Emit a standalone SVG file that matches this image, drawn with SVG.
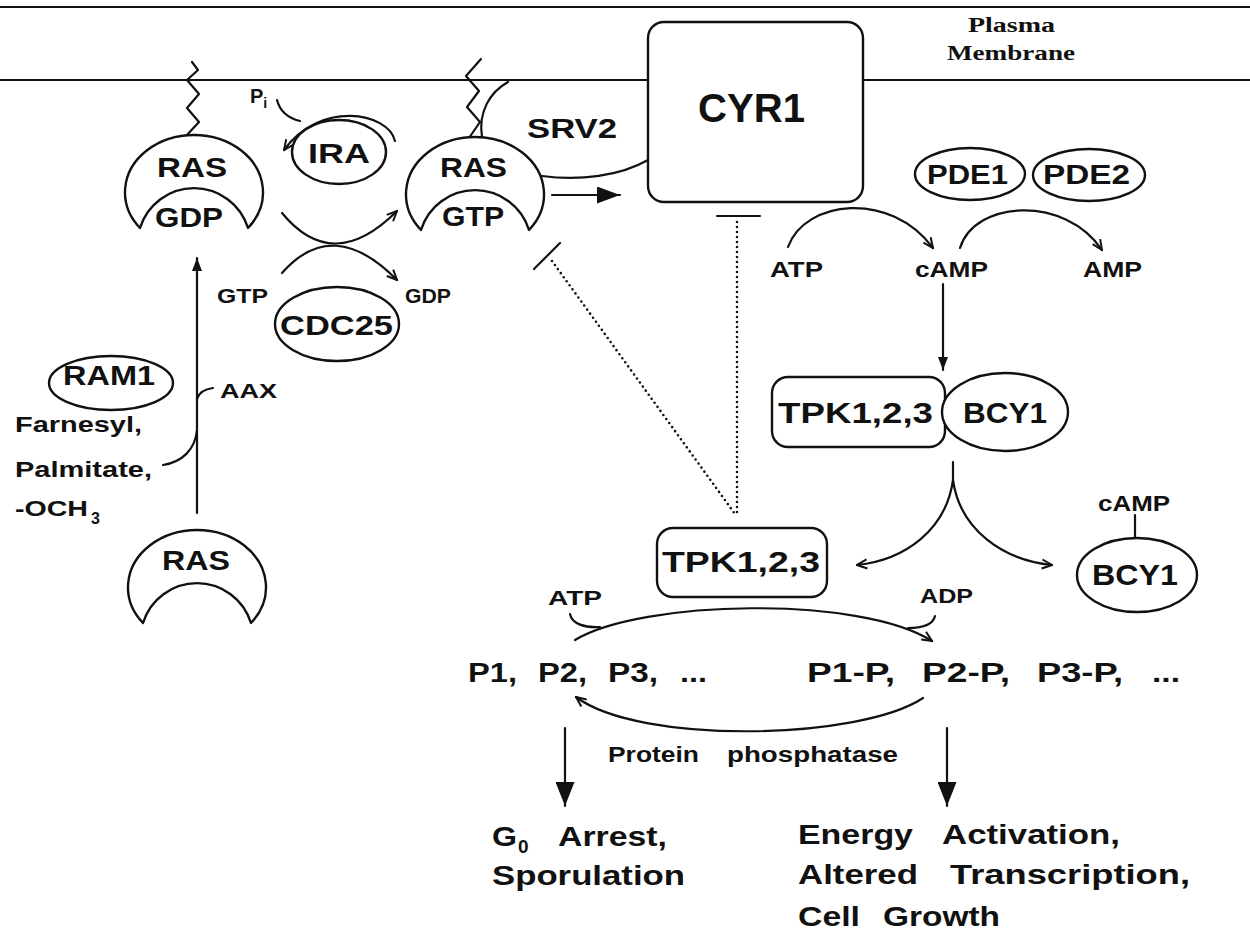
<svg xmlns="http://www.w3.org/2000/svg" width="1250" height="933" viewBox="0 0 1250 933">
<style>
  .ln{fill:none;stroke:#111;stroke-width:2.2;stroke-linecap:round;stroke-linejoin:round}
  .sh{fill:#fff;stroke:#111;stroke-width:2.4;stroke-linejoin:round}
  .t{font-family:"Liberation Sans",Arial,sans-serif;font-weight:bold;fill:#111}
  .s{font-family:"Liberation Serif","Times New Roman",serif;font-weight:bold;fill:#111}
  .dot{fill:none;stroke:#111;stroke-width:2.6;stroke-linecap:round;stroke-dasharray:0 5}
</style>
<defs>
  <path id="ras" d="M -54 93 A 69 57.3 0 1 1 54 93 A 56.5 56.5 0 0 0 -54 93 Z"/>
  <marker id="open" viewBox="0 0 12 12" refX="11" refY="6" markerWidth="12" markerHeight="12" markerUnits="userSpaceOnUse" orient="auto">
    <path d="M1,1.5 L11,6 L1,10.5" fill="none" stroke="#111" stroke-width="2"/>
  </marker>
  <marker id="big" viewBox="0 0 10 10" refX="10" refY="5" markerWidth="23" markerHeight="17" markerUnits="userSpaceOnUse" orient="auto" preserveAspectRatio="none">
    <path d="M0,0 L10,5 L0,10 Z" fill="#111"/>
  </marker>
  <marker id="down" viewBox="0 0 10 10" refX="10" refY="5" markerWidth="24" markerHeight="19" markerUnits="userSpaceOnUse" orient="auto" preserveAspectRatio="none">
    <path d="M0,0 L10,5 L0,10 Z" fill="#111"/>
  </marker>
  <marker id="small" viewBox="0 0 10 10" refX="10" refY="5" markerWidth="13" markerHeight="10" markerUnits="userSpaceOnUse" orient="auto" preserveAspectRatio="none">
    <path d="M0,0 L10,5 L0,10 Z" fill="#111"/>
  </marker>
</defs>
<rect width="1250" height="933" fill="#fff"/>

<g id="membrane">
  <line class="ln" x1="0" y1="7" x2="1250" y2="7"/>
  <line class="ln" x1="0" y1="80" x2="648" y2="80"/>
  <line class="ln" x1="863" y1="80" x2="1250" y2="80"/>
  <text class="s" x="968" y="32" font-size="20" textLength="87" lengthAdjust="spacingAndGlyphs">Plasma</text>
  <text class="s" x="947" y="60" font-size="20" textLength="128" lengthAdjust="spacingAndGlyphs">Membrane</text>
</g>

<g id="connectors">
  <path class="ln" d="M186,136 L199,122 L187,108 L199,94 L187,80 L198,70 L192,62"/>
  <path class="ln" d="M469,138 L480,122 L467,107 L479,91 L466,76 L481,59"/>
  <path class="ln" d="M508,82 C490,92 478,112 482,137"/>
  <path class="ln" d="M542,176 C580,181 620,176 648,160"/>
  <path class="ln" d="M395,141 C388,112 320,100 284,150" marker-end="url(#open)"/>
  <path class="ln" d="M277,100 C280,112 288,118 300,121"/>
  <path class="ln" d="M282,213 Q333,275 397,211" marker-end="url(#open)"/>
  <path class="ln" d="M282,273 Q333,215 397,280" marker-end="url(#open)"/>
  <line class="ln" x1="552" y1="195" x2="620" y2="195" marker-end="url(#big)"/>
  <line class="ln" x1="717" y1="216" x2="760" y2="216"/>
  <line class="dot" x1="737" y1="222" x2="737" y2="516"/>
  <line class="ln" x1="534" y1="269" x2="560" y2="243"/>
  <line class="dot" x1="552" y1="261" x2="735" y2="514"/>
  <path class="ln" d="M788,247 C805,200 890,190 933,248" marker-end="url(#open)"/>
  <path class="ln" d="M960,248 C975,200 1065,195 1102,250" marker-end="url(#open)"/>
  <line class="ln" x1="943" y1="284" x2="943" y2="370" marker-end="url(#small)"/>
  <path class="ln" d="M953,462 L953,480 C946,530 905,560 857,565" marker-end="url(#open)"/>
  <path class="ln" d="M953,480 C960,530 1003,560 1052,565" marker-end="url(#open)"/>
  <line class="ln" x1="1135" y1="515" x2="1135" y2="538"/>
  <line class="ln" x1="197" y1="513" x2="197" y2="258" marker-end="url(#small)"/>
  <path class="ln" d="M197,399 C199,392 205,389 213,388"/>
  <path class="ln" d="M197,430 C195,450 182,462 163,465"/>
  <path class="ln" d="M575,640 C640,600 860,595 932,641" marker-end="url(#open)"/>
  <path class="ln" d="M570,614 C572,624 585,628 600,627"/>
  <path class="ln" d="M935,616 C933,625 922,628 908,628"/>
  <path class="ln" d="M923,698 C860,740 640,745 576,697" marker-end="url(#open)"/>
  <line class="ln" x1="565" y1="728" x2="565" y2="806" marker-end="url(#down)"/>
  <line class="ln" x1="947" y1="728" x2="947" y2="806" marker-end="url(#down)"/>
</g>

<g id="ras-gdp">
  <use href="#ras" class="sh" transform="translate(194,135)"/>
  <text class="t" x="157" y="177" font-size="28" textLength="70" lengthAdjust="spacingAndGlyphs">RAS</text>
  <text class="t" x="155" y="227" font-size="28" textLength="68" lengthAdjust="spacingAndGlyphs">GDP</text>
</g>

<g id="ras-gtp">
  <use href="#ras" class="sh" transform="translate(475,137)"/>
  <text class="t" x="440" y="177" font-size="28" textLength="67" lengthAdjust="spacingAndGlyphs">RAS</text>
  <text class="t" x="442" y="226" font-size="28" textLength="62" lengthAdjust="spacingAndGlyphs">GTP</text>
</g>

<g id="ras-immature">
  <use href="#ras" class="sh" transform="translate(197,530)"/>
  <text class="t" x="162" y="570" font-size="28" textLength="68" lengthAdjust="spacingAndGlyphs">RAS</text>
</g>

<g id="cyr1">
  <rect class="sh" x="648" y="22" width="215" height="180" rx="16"/>
  <text class="t" x="698" y="122" font-size="40" textLength="107" lengthAdjust="spacingAndGlyphs">CYR1</text>
</g>

<g id="srv2">
  <text class="t" x="527" y="138" font-size="27" textLength="90" lengthAdjust="spacingAndGlyphs">SRV2</text>
</g>

<g id="ira">
  <ellipse class="sh" cx="339" cy="152" rx="47" ry="32"/>
  <text class="t" x="308" y="163" font-size="28" textLength="62" lengthAdjust="spacingAndGlyphs">IRA</text>
  <text class="t" x="250" y="103" font-size="20">P<tspan font-size="14" dy="5">i</tspan></text>
</g>

<g id="cdc25">
  <ellipse class="sh" cx="337" cy="324" rx="62" ry="37"/>
  <text class="t" x="280" y="335" font-size="28" textLength="113" lengthAdjust="spacingAndGlyphs">CDC25</text>
  <text class="t" x="217" y="303" font-size="21" textLength="51" lengthAdjust="spacingAndGlyphs">GTP</text>
  <text class="t" x="405" y="303" font-size="21" textLength="46" lengthAdjust="spacingAndGlyphs">GDP</text>
</g>

<g id="pde1">
  <ellipse class="sh" cx="970" cy="174" rx="55" ry="26"/>
  <text class="t" x="927" y="184" font-size="27" textLength="81" lengthAdjust="spacingAndGlyphs">PDE1</text>
</g>
<g id="pde2">
  <ellipse class="sh" cx="1089" cy="175" rx="56" ry="26"/>
  <text class="t" x="1043" y="184" font-size="27" textLength="87" lengthAdjust="spacingAndGlyphs">PDE2</text>
</g>

<g id="nucleotides">
  <text class="t" x="770" y="277" font-size="22" textLength="53" lengthAdjust="spacingAndGlyphs">ATP</text>
  <text class="t" x="915" y="277" font-size="22" textLength="73" lengthAdjust="spacingAndGlyphs">cAMP</text>
  <text class="t" x="1083" y="277" font-size="22" textLength="59" lengthAdjust="spacingAndGlyphs">AMP</text>
</g>

<g id="tpk-bcy1-complex">
  <rect class="sh" x="772" y="377" width="173" height="70" rx="16"/>
  <ellipse class="sh" cx="1005" cy="412" rx="63" ry="39"/>
  <text class="t" x="778" y="423" font-size="30" textLength="155" lengthAdjust="spacingAndGlyphs">TPK1,2,3</text>
  <text class="t" x="963" y="423" font-size="30" textLength="84" lengthAdjust="spacingAndGlyphs">BCY1</text>
</g>

<g id="bcy1-camp">
  <ellipse class="sh" cx="1137" cy="575" rx="60" ry="37"/>
  <text class="t" x="1092" y="585" font-size="30" textLength="86" lengthAdjust="spacingAndGlyphs">BCY1</text>
  <text class="t" x="1098" y="511" font-size="22" textLength="72" lengthAdjust="spacingAndGlyphs">cAMP</text>
</g>

<g id="tpk">
  <rect class="sh" x="657" y="528" width="170" height="69" rx="16"/>
  <text class="t" x="662" y="572" font-size="30" textLength="158" lengthAdjust="spacingAndGlyphs">TPK1,2,3</text>
  <text class="t" x="548" y="605" font-size="21" textLength="54" lengthAdjust="spacingAndGlyphs">ATP</text>
  <text class="t" x="920" y="603" font-size="21" textLength="53" lengthAdjust="spacingAndGlyphs">ADP</text>
</g>

<g id="substrates">
  <text class="t" y="682" font-size="27"><tspan x="468" textLength="49" lengthAdjust="spacingAndGlyphs">P1,</tspan><tspan x="538" textLength="49" lengthAdjust="spacingAndGlyphs">P2,</tspan><tspan x="608" textLength="50" lengthAdjust="spacingAndGlyphs">P3,</tspan><tspan x="680" textLength="27" lengthAdjust="spacingAndGlyphs">...</tspan></text>
</g>
<g id="phospho-substrates">
  <text class="t" y="682" font-size="27"><tspan x="807" textLength="88" lengthAdjust="spacingAndGlyphs">P1-P,</tspan><tspan x="922" textLength="88" lengthAdjust="spacingAndGlyphs">P2-P,</tspan><tspan x="1037" textLength="86" lengthAdjust="spacingAndGlyphs">P3-P,</tspan><tspan x="1152" textLength="28" lengthAdjust="spacingAndGlyphs">...</tspan></text>
</g>
<g id="phosphatase">
  <text class="t" y="762" font-size="22"><tspan x="608" textLength="91" lengthAdjust="spacingAndGlyphs">Protein</tspan><tspan x="727" textLength="171" lengthAdjust="spacingAndGlyphs">phosphatase</tspan></text>
</g>

<g id="g0-arrest">
  <text class="t" x="492" y="846" font-size="27"><tspan textLength="25" lengthAdjust="spacingAndGlyphs">G</tspan><tspan font-size="19" dx="1" dy="7">0</tspan></text>
  <text class="t" x="558" y="846" font-size="27" textLength="109" lengthAdjust="spacingAndGlyphs">Arrest,</text>
  <text class="t" x="492" y="885" font-size="27" textLength="193" lengthAdjust="spacingAndGlyphs">Sporulation</text>
</g>

<g id="growth">
  <text class="t" y="844" font-size="27"><tspan x="798" textLength="115" lengthAdjust="spacingAndGlyphs">Energy</tspan><tspan x="942" textLength="178" lengthAdjust="spacingAndGlyphs">Activation,</tspan></text>
  <text class="t" y="884" font-size="27"><tspan x="798" textLength="120" lengthAdjust="spacingAndGlyphs">Altered</tspan><tspan x="950" textLength="240" lengthAdjust="spacingAndGlyphs">Transcription,</tspan></text>
  <text class="t" y="926" font-size="27"><tspan x="798" textLength="62" lengthAdjust="spacingAndGlyphs">Cell</tspan><tspan x="883" textLength="117" lengthAdjust="spacingAndGlyphs">Growth</tspan></text>
</g>

<g id="ram1">
  <ellipse class="sh" cx="111" cy="383" rx="62" ry="27"/>
  <text class="t" x="63" y="385" font-size="27" textLength="92" lengthAdjust="spacingAndGlyphs">RAM1</text>
  <text class="t" x="220" y="398" font-size="21" textLength="57" lengthAdjust="spacingAndGlyphs">AAX</text>
  <text class="t" x="15" y="432" font-size="22" textLength="127" lengthAdjust="spacingAndGlyphs">Farnesyl,</text>
  <text class="t" x="15" y="477" font-size="22" textLength="137" lengthAdjust="spacingAndGlyphs">Palmitate,</text>
  <text class="t" x="15" y="516" font-size="22"><tspan textLength="73" lengthAdjust="spacingAndGlyphs">-OCH</tspan><tspan font-size="16" dx="3" dy="8">3</tspan></text>
</g>
</svg>
